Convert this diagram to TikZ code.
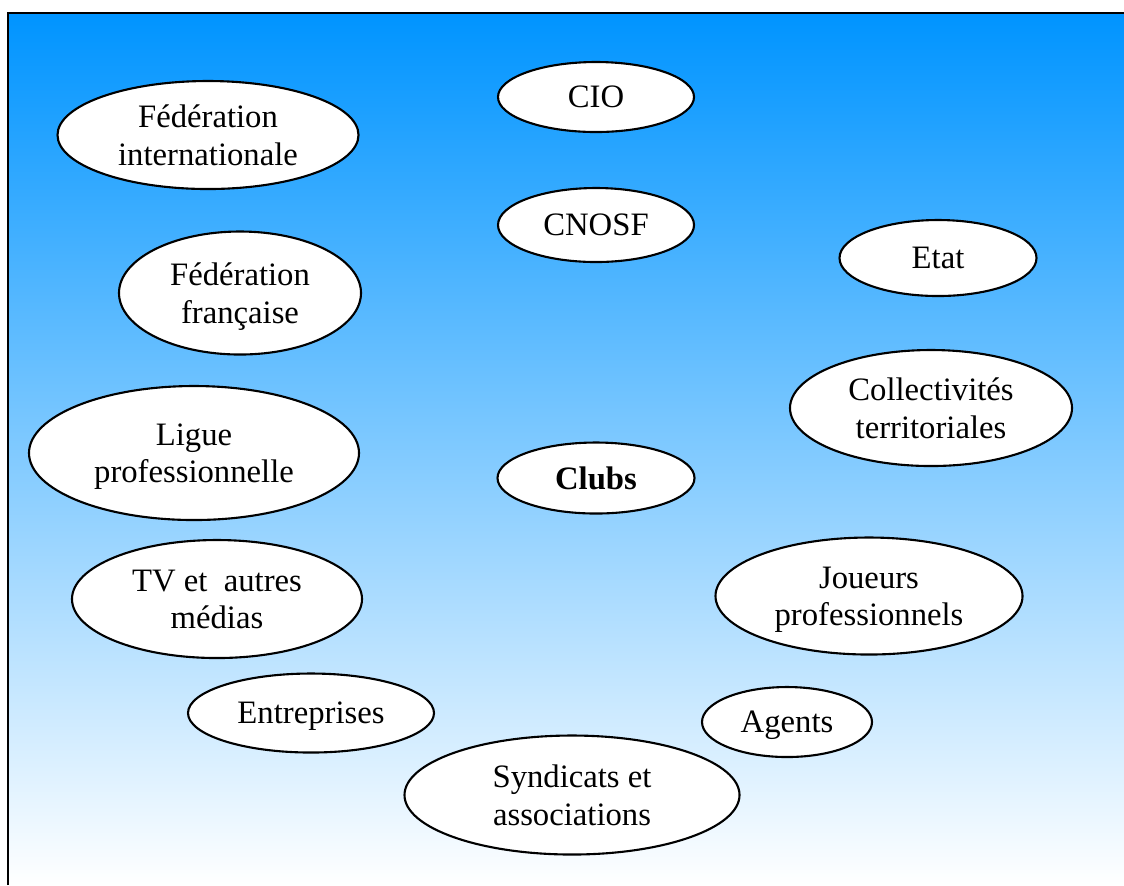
\documentclass[tikz,border=0pt]{standalone}
\usepackage{fontspec}
\setmainfont{Liberation Serif}
\usepackage{tikz}
\usetikzlibrary{shapes.geometric}
\definecolor{fondhaut}{RGB}{0,148,255}
\definecolor{fondmilieu}{RGB}{166,200,255}
\definecolor{fondbas}{RGB}{255,255,255}

\begin{document}
\begin{tikzpicture}[
    bulle/.style={ellipse, draw=black, line width=0.6pt, fill=white, inner sep=0pt,
                  align=center, text depth=0pt, font=\fontsize{9.3}{10.6}\selectfont},
    cadre/.style={line width=0.8pt, black}
]
\useasboundingbox (0,0) rectangle (11.24,-8.85);
% fond degrade
\shade[top color=fondhaut, middle color=fondmilieu, bottom color=fondbas]
    (0.08,-0.13) rectangle (11.24,-8.85);
\draw[cadre] (0.08,-8.85) -- (0.08,-0.13) -- (11.24,-0.13);

\node[bulle, minimum width=3.01cm, minimum height=1.08cm] (fedint) at (2.08,-1.35) {F\'ed\'eration\\internationale};
\node[bulle, minimum width=1.96cm, minimum height=0.70cm] (cio) at (5.96,-0.97) {CIO};
\node[bulle, minimum width=1.96cm, minimum height=0.74cm] (cnosf) at (5.96,-2.25) {CNOSF};
\node[bulle, minimum width=2.42cm, minimum height=1.23cm] (fedfr) at (2.40,-2.93) {F\'ed\'eration\\fran\c{c}aise};
\node[bulle, minimum width=1.97cm, minimum height=0.76cm] (etat) at (9.38,-2.58) {Etat};
\node[bulle, minimum width=2.82cm, minimum height=1.16cm] (coll) at (9.31,-4.08) {Collectivit\'es\\territoriales};
\node[bulle, minimum width=3.30cm, minimum height=1.34cm] (ligue) at (1.94,-4.53) {Ligue\\professionnelle};
\node[bulle, minimum width=1.97cm, minimum height=0.71cm] (clubs) at (5.96,-4.78) {\textbf{Clubs}};
\node[bulle, minimum width=2.90cm, minimum height=1.18cm] (tv) at (2.17,-5.99) {TV et\ \ autres\\m\'edias};
\node[bulle, minimum width=3.07cm, minimum height=1.17cm] (joueurs) at (8.69,-5.96) {Joueurs\\professionnels};
\node[bulle, minimum width=2.46cm, minimum height=0.79cm] (entr) at (3.11,-7.13) {Entreprises};
\node[bulle, minimum width=1.70cm, minimum height=0.70cm] (agents) at (7.87,-7.22) {Agents};
\node[bulle, minimum width=3.35cm, minimum height=1.19cm] (synd) at (5.72,-7.95) {Syndicats et\\associations};
\end{tikzpicture}
\end{document}
